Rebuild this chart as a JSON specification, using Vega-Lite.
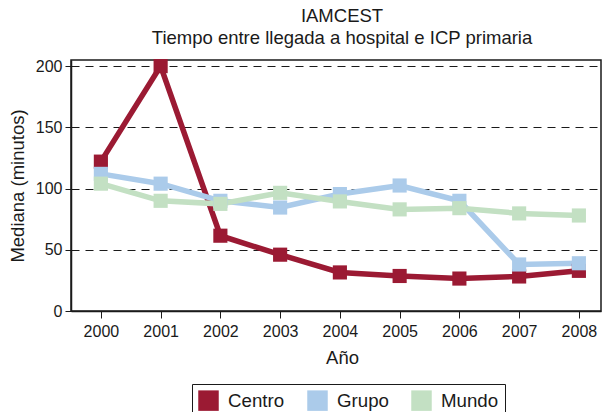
{
  "$schema": "https://vega.github.io/schema/vega-lite/v6.json",
  "width": 530,
  "height": 251,
  "autosize": "none",
  "padding": {"left": 71, "top": 60, "right": 2, "bottom": 101},
  "background": "white",
  "title": {
    "text": ["IAMCEST", "Tiempo entre llegada a hospital e ICP primaria"],
    "font": "Liberation Sans",
    "fontSize": 18.5,
    "fontWeight": "normal",
    "color": "#1a1a1a",
    "lineHeight": 22,
    "anchor": "middle",
    "dx": 6,
    "offset": 8
  },
  "config": {
    "font": "Liberation Sans",
    "view": {"stroke": "#1a1a1a", "strokeWidth": 1.5}
  },
  "data": {
    "values": [
      {"year": 2000, "serie": "Centro", "valor": 122},
      {"year": 2001, "serie": "Centro", "valor": 200},
      {"year": 2002, "serie": "Centro", "valor": 61.5},
      {"year": 2003, "serie": "Centro", "valor": 46},
      {"year": 2004, "serie": "Centro", "valor": 31.5},
      {"year": 2005, "serie": "Centro", "valor": 28.6},
      {"year": 2006, "serie": "Centro", "valor": 26.5},
      {"year": 2007, "serie": "Centro", "valor": 28.2},
      {"year": 2008, "serie": "Centro", "valor": 32.8},
      {"year": 2000, "serie": "Grupo", "valor": 112},
      {"year": 2001, "serie": "Grupo", "valor": 104},
      {"year": 2002, "serie": "Grupo", "valor": 90},
      {"year": 2003, "serie": "Grupo", "valor": 84.5},
      {"year": 2004, "serie": "Grupo", "valor": 95.5},
      {"year": 2005, "serie": "Grupo", "valor": 102.5},
      {"year": 2006, "serie": "Grupo", "valor": 90},
      {"year": 2007, "serie": "Grupo", "valor": 38},
      {"year": 2008, "serie": "Grupo", "valor": 39},
      {"year": 2000, "serie": "Mundo", "valor": 104},
      {"year": 2001, "serie": "Mundo", "valor": 90},
      {"year": 2002, "serie": "Mundo", "valor": 87.5},
      {"year": 2003, "serie": "Mundo", "valor": 96.5},
      {"year": 2004, "serie": "Mundo", "valor": 89.5},
      {"year": 2005, "serie": "Mundo", "valor": 83},
      {"year": 2006, "serie": "Mundo", "valor": 84},
      {"year": 2007, "serie": "Mundo", "valor": 79.7},
      {"year": 2008, "serie": "Mundo", "valor": 78}
    ]
  },
  "encoding": {
    "x": {
      "field": "year",
      "type": "quantitative",
      "scale": {"domain": [1999.5, 2008.37], "nice": false, "zero": false},
      "axis": {
        "values": [2000, 2001, 2002, 2003, 2004, 2005, 2006, 2007, 2008],
        "format": "d",
        "title": "Año",
        "titleFontSize": 18.5,
        "titleFontWeight": "normal",
        "titleColor": "#1a1a1a",
        "titlePadding": 9,
        "titleX": 271,
        "labelFontSize": 16,
        "labelColor": "#1a1a1a",
        "labelPadding": 5,
        "grid": false,
        "domainColor": "#1a1a1a",
        "domainWidth": 1.5,
        "tickColor": "#1a1a1a",
        "tickSize": 7
      }
    },
    "y": {
      "field": "valor",
      "type": "quantitative",
      "scale": {"domain": [0, 205], "nice": false},
      "axis": {
        "values": [0, 50, 100, 150, 200],
        "title": "Mediana (minutos)",
        "titleFontSize": 18.5,
        "titleFontWeight": "normal",
        "titleColor": "#1a1a1a",
        "titlePadding": 8,
        "labelFontSize": 16,
        "labelColor": "#1a1a1a",
        "labelPadding": 3,
        "grid": true,
        "gridColor": "#1a1a1a",
        "gridDash": [8, 6],
        "gridWidth": 1.2,
        "domainColor": "#1a1a1a",
        "domainWidth": 1.5,
        "tickColor": "#1a1a1a",
        "tickSize": 6
      }
    },
    "color": {
      "field": "serie",
      "type": "nominal",
      "scale": {"domain": ["Centro", "Grupo", "Mundo"], "range": ["#9b1a33", "#abcbea", "#c3e0c3"]},
      "legend": {
        "title": null,
        "orient": "none",
        "direction": "horizontal",
        "legendX": 121,
        "legendY": 324,
        "strokeColor": "#1a1a1a",
        "padding": 6,
        "symbolType": "square",
        "symbolSize": 420,
        "symbolStrokeWidth": 0,
        "symbolOpacity": 1,
        "labelFontSize": 18.7,
        "labelColor": "#1a1a1a",
        "labelOffset": 9,
        "columnPadding": 22
      }
    }
  },
  "layer": [
    {"mark": {"type": "line", "strokeWidth": 5.5}},
    {"mark": {"type": "point", "shape": "square", "filled": true, "size": 200, "opacity": 1}}
  ]
}
